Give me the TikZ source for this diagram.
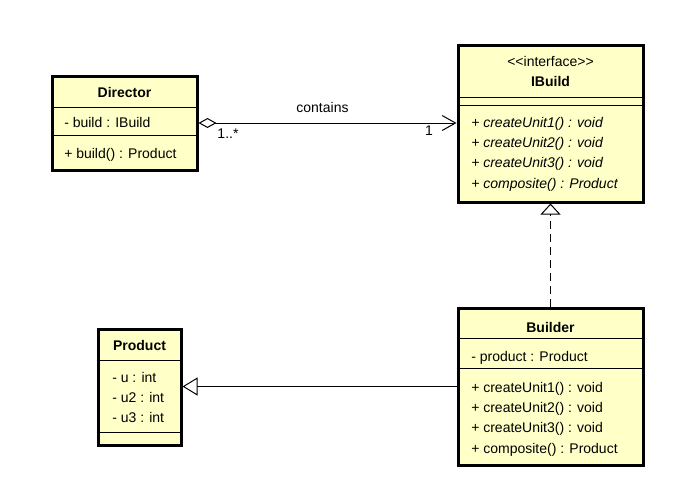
\documentclass[tikz,border=0pt]{standalone}
\usepackage{fontspec}
\setmainfont{Liberation Sans}
\usetikzlibrary{arrows.meta}
\definecolor{umlfill}{RGB}{255,255,200}
\begin{document}
\begin{tikzpicture}[x=0.75pt,y=-0.75pt,
  font=\fontsize{10.5pt}{12.6pt}\selectfont,
  classbox/.style={draw=black, line width=2.25pt, fill=umlfill, inner sep=0pt},
  divider/.style={draw=black, line width=0.75pt},
  member/.style={anchor=base west, inner sep=0pt},
  opitalic/.style={member, font=\fontsize{10.5pt}{12.6pt}\selectfont\itshape},
  title/.style={anchor=base, inner sep=0pt, font=\fontsize{10.5pt}{12.6pt}\selectfont\bfseries},
  plain/.style={anchor=base, inner sep=0pt},
  conn/.style={draw=black, line width=0.75pt}
]
\fill[white] (0,0) rectangle (694,504);
\useasboundingbox (0,0) rectangle (694,504);

% Director
\node[classbox, minimum width=108.75pt, minimum height=70.5pt] (director) at (124.5,123) {};
\draw[divider] (director.west |- 0,107) -- (director.east |- 0,107);
\draw[divider] (director.west |- 0,135) -- (director.east |- 0,135);
\node[title] (dirtitle) at (124.5,97.3) {Director};
\node[member] (dirattr) at (64,127.3) {- build : IBuild};
\node[member] (dirop) at (64,158.3) {+ build() : Product};

% IBuild
\node[classbox, minimum width=138.75pt, minimum height=117.75pt] (ibuild) at (550.5,123.5) {};
\draw[divider] (ibuild.west |- 0,97) -- (ibuild.east |- 0,97);
\draw[divider] (ibuild.west |- 0,105) -- (ibuild.east |- 0,105);
\node[plain] (ibstereo) at (550.5,66.7) {<{}<interface>{}>};
\node[title] (ibtitle) at (550.5,86.7) {IBuild};
\node[opitalic] (ibop1) at (471,127.7) {+ createUnit1() : void};
\node[opitalic] (ibop2) at (471,147.7) {+ createUnit2() : void};
\node[opitalic] (ibop3) at (471,167.7) {+ createUnit3() : void};
\node[opitalic] (ibop4) at (471,188.3) {+ composite() : Product};

% Builder
\node[classbox, minimum width=138.75pt, minimum height=117.75pt] (builder) at (550.5,386.5) {};
\draw[divider] (builder.west |- 0,338) -- (builder.east |- 0,338);
\draw[divider] (builder.west |- 0,368) -- (builder.east |- 0,368);
\node[title] (bdtitle) at (550.5,332) {Builder};
\node[member] (bdattr) at (471,361.7) {- product : Product};
\node[member] (bdop1) at (471,392) {+ createUnit1() : void};
\node[member] (bdop2) at (471,412) {+ createUnit2() : void};
\node[member] (bdop3) at (471,432) {+ createUnit3() : void};
\node[member] (bdop4) at (471,453) {+ composite() : Product};

% Product
\node[classbox, minimum width=62.25pt, minimum height=87pt] (product) at (139.5,387) {};
\draw[divider] (product.west |- 0,360) -- (product.east |- 0,360);
\draw[divider] (product.west |- 0,432) -- (product.east |- 0,432);
\node[title] (prtitle) at (139.5,350.7) {Product};
\node[member] (pra1) at (112,382.7) {- u : int};
\node[member] (pra2) at (112,402.7) {- u2 : int};
\node[member] (pra3) at (112,422.7) {- u3 : int};

% Aggregation
\draw[conn, {Diamond[length=13.5pt,width=7.5pt,fill=white]}-{Straight Barb[length=10pt,width=11.25pt]}]
  (director.east) -- (ibuild.west |- director.east);
\node[plain] (lcontains) at (322.5,112.7) {contains};
\node[plain] (lmany) at (228,138.3) {1..*};
\node[plain] (lone) at (429,135) {1};

% Realization
\draw[conn, dash pattern=on 6pt off 3.75pt, -{Triangle[length=8.25pt,width=15pt,fill=white]}]
  (builder.north) -- (ibuild.south);

% Generalization
\draw[conn, -{Triangle[length=11.25pt,width=13.5pt,fill=white]}]
  (builder.west) -- (product.east |- builder.west);
\end{tikzpicture}
\end{document}
